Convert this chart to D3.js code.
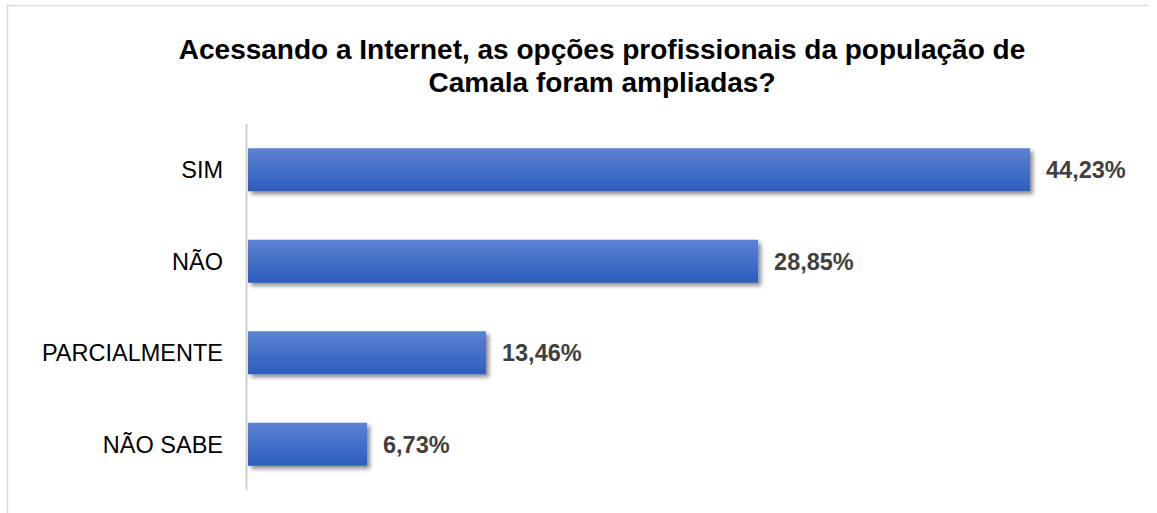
<!DOCTYPE html>
<html>
<head>
<meta charset="utf-8">
<script src="https://cdn.jsdelivr.net/npm/d3@7"></script>
<style>
  html, body { margin: 0; padding: 0; background: #ffffff; }
  svg { display: block; font-family: "Liberation Sans", Arial, sans-serif; }
</style>
</head>
<body>
<svg id="chart" width="1157" height="513"></svg>
<script>
// Survey answers and their shares (%)
const categories = ["SIM", "NÃO", "PARCIALMENTE", "NÃO SABE"];
const values = [44.23, 28.85, 13.46, 6.73];
const valueLabels = ["44,23%", "28,85%", "13,46%", "6,73%"];
const titleLines = [
  "Acessando a Internet, as opções profissionais da população de",
  "Camala foram ampliadas?"
];

const svg = d3.select("#chart");

// gradient fill and soft drop shadow for the bars
const defs = svg.append("defs");
const grad = defs.append("linearGradient")
  .attr("id", "barFill").attr("x1", 0).attr("y1", 0).attr("x2", 0).attr("y2", 1);
grad.append("stop").attr("offset", "0%").attr("stop-color", "#5d82d2");
grad.append("stop").attr("offset", "100%").attr("stop-color", "#2d5dbd");

const shadow = defs.append("filter").attr("id", "barShadow")
  .attr("x", "-5%").attr("y", "-20%").attr("width", "115%").attr("height", "160%");
shadow.append("feDropShadow")
  .attr("dx", 3).attr("dy", 3).attr("stdDeviation", 2)
  .attr("flood-color", "#000").attr("flood-opacity", 0.45);

// frame lines (top and left)
svg.append("line").attr("x1", 7).attr("x2", 1148).attr("y1", 5.5).attr("y2", 5.5)
  .attr("stroke", "#d9d9d9").attr("stroke-width", 1.5);
svg.append("line").attr("x1", 7.5).attr("x2", 7.5).attr("y1", 5).attr("y2", 513)
  .attr("stroke", "#d9d9d9").attr("stroke-width", 1.5);

// title
svg.append("g").selectAll("text").data(titleLines).join("text")
  .attr("x", 602)
  .attr("y", (d, i) => 59 + i * 33)
  .attr("text-anchor", "middle")
  .attr("font-size", 28)
  .attr("font-weight", "bold")
  .attr("fill", "#000")
  .text(d => d);

// scales
const x = d3.scaleLinear().domain([0, d3.max(values)]).range([248, 1030]);
const y = d3.scaleBand().domain(categories).range([124, 490])
  .paddingInner(0.53).paddingOuter(0.265);

// category axis line
svg.append("line").attr("x1", 246.5).attr("x2", 246.5).attr("y1", 124).attr("y2", 490)
  .attr("stroke", "#d0d0d0").attr("stroke-width", 2);

const rows = categories.map((c, i) => ({ c, v: values[i], label: valueLabels[i] }));

// bars
svg.append("g").selectAll("rect").data(rows).join("rect")
  .attr("x", x(0))
  .attr("y", d => y(d.c))
  .attr("width", d => x(d.v) - x(0))
  .attr("height", y.bandwidth())
  .attr("fill", "url(#barFill)")
  .attr("filter", "url(#barShadow)");

// category labels
svg.append("g").selectAll("text").data(rows).join("text")
  .attr("x", 223)
  .attr("y", d => y(d.c) + y.bandwidth() / 2)
  .attr("dy", "0.36em")
  .attr("text-anchor", "end")
  .attr("font-size", 23.5)
  .attr("fill", "#000")
  .text(d => d.c);

// value labels
svg.append("g").selectAll("text").data(rows).join("text")
  .attr("x", d => x(d.v) + 16)
  .attr("y", d => y(d.c) + y.bandwidth() / 2)
  .attr("dy", "0.36em")
  .attr("font-size", 23.5)
  .attr("font-weight", "bold")
  .attr("fill", "#404040")
  .text(d => d.label);
</script>
</body>
</html>
